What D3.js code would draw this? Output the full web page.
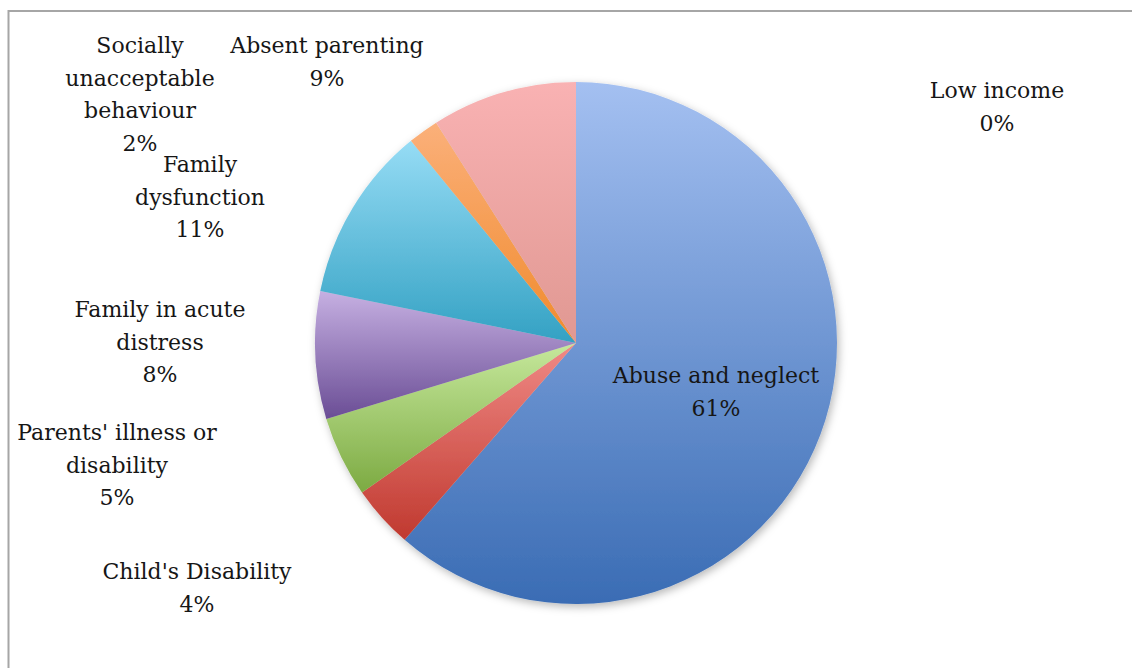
<!DOCTYPE html>
<html>
<head>
<meta charset="utf-8">
<script src="https://cdn.jsdelivr.net/npm/d3@7"></script>
<style>
  body { margin: 0; background: #fff; }
  text { font-family: "DejaVu Serif", "Liberation Serif", serif; fill: #161616; }
</style>
</head>
<body>
<div id="chart-area"></div>
<script>
// categories, clockwise from 12 o'clock
var categories = ["Low income", "Abuse and neglect", "Child's Disability",
  "Parents' illness or disability", "Family in acute distress",
  "Family dysfunction", "Socially unacceptable behaviour", "Absent parenting"];

// share of cases (%)
var values = [0, 61.4, 3.9, 5.0, 7.9, 10.9, 1.9, 9.0];

// how each label wraps
var labelLines = [
  ["Low income"],
  ["Abuse and neglect"],
  ["Child's Disability"],
  ["Parents' illness or", "disability"],
  ["Family in acute", "distress"],
  ["Family", "dysfunction"],
  ["Socially", "unacceptable", "behaviour"],
  ["Absent parenting"]
];

// gradient colours per slice (top, bottom)
var topColors = ["#9fbcef", "#a4c0f1", "#f08a86", "#c6e89c", "#c6b0e2", "#96dcf5", "#fbb07a", "#f9b2b3"];
var bottomColors = ["#3a6cb4", "#3a6cb4", "#c0392f", "#7caa42", "#6a4d95", "#33a1c3", "#f08a2c", "#e09892"];

var width = 1132, height = 668;
var cx = 576, cy = 343, radius = 261;
var lineH = 32.5;

// label anchor (centre x, first baseline) relative to pie centre
var labelAt = [[421, -245], [140, 40], [-379, 236], [-459, 97], [-416, -26],
  [-376, -171], [-436, -290], [-249, -290]];

var svg = d3.select("#chart-area").append("svg")
  .attr("width", width)
  .attr("height", height);

// frame
svg.append("rect")
  .attr("x", 8.5).attr("y", 11)
  .attr("width", 1300).attr("height", 800)
  .attr("fill", "none")
  .attr("stroke", "#a6a6a6")
  .attr("stroke-width", 2);

var defs = svg.append("defs");

var shadow = defs.append("filter")
  .attr("id", "shadow")
  .attr("x", "-10%").attr("y", "-10%")
  .attr("width", "130%").attr("height", "130%");
shadow.append("feDropShadow")
  .attr("dx", 2).attr("dy", 3)
  .attr("stdDeviation", 4)
  .attr("flood-color", "#000")
  .attr("flood-opacity", 0.28);

categories.forEach((c, i) => {
  var grad = defs.append("linearGradient")
    .attr("id", "grad" + i)
    .attr("x1", 0).attr("y1", 0)
    .attr("x2", 0).attr("y2", 1);
  grad.append("stop").attr("offset", "0%").attr("stop-color", topColors[i]);
  grad.append("stop").attr("offset", "100%").attr("stop-color", bottomColors[i]);
});

var pie = d3.pie()
  .sort(null)
  .value(d => d);

var arc = d3.arc()
  .innerRadius(0)
  .outerRadius(radius);

var g = svg.append("g")
  .attr("transform", "translate(" + cx + "," + cy + ")");

var arcs = pie(values);
var total = d3.sum(values);

g.append("g")
  .attr("filter", "url(#shadow)")
  .selectAll("path")
  .data(arcs)
  .enter()
  .append("path")
    .attr("d", arc)
    .attr("fill", (d, i) => "url(#grad" + i + ")");

// labels
var labels = g.selectAll(".label")
  .data(arcs)
  .enter()
  .append("text")
    .attr("class", "label")
    .attr("font-size", "22px")
    .attr("text-anchor", "middle");

labels.each(function(d, i) {
  var t = d3.select(this);
  var lines = labelLines[i].concat([Math.round(d.value / total * 100) + "%"]);
  lines.forEach((line, j) => {
    t.append("tspan")
      .attr("x", labelAt[i][0])
      .attr("y", labelAt[i][1] + j * lineH)
      .text(line);
  });
});
</script>
</body>
</html>
